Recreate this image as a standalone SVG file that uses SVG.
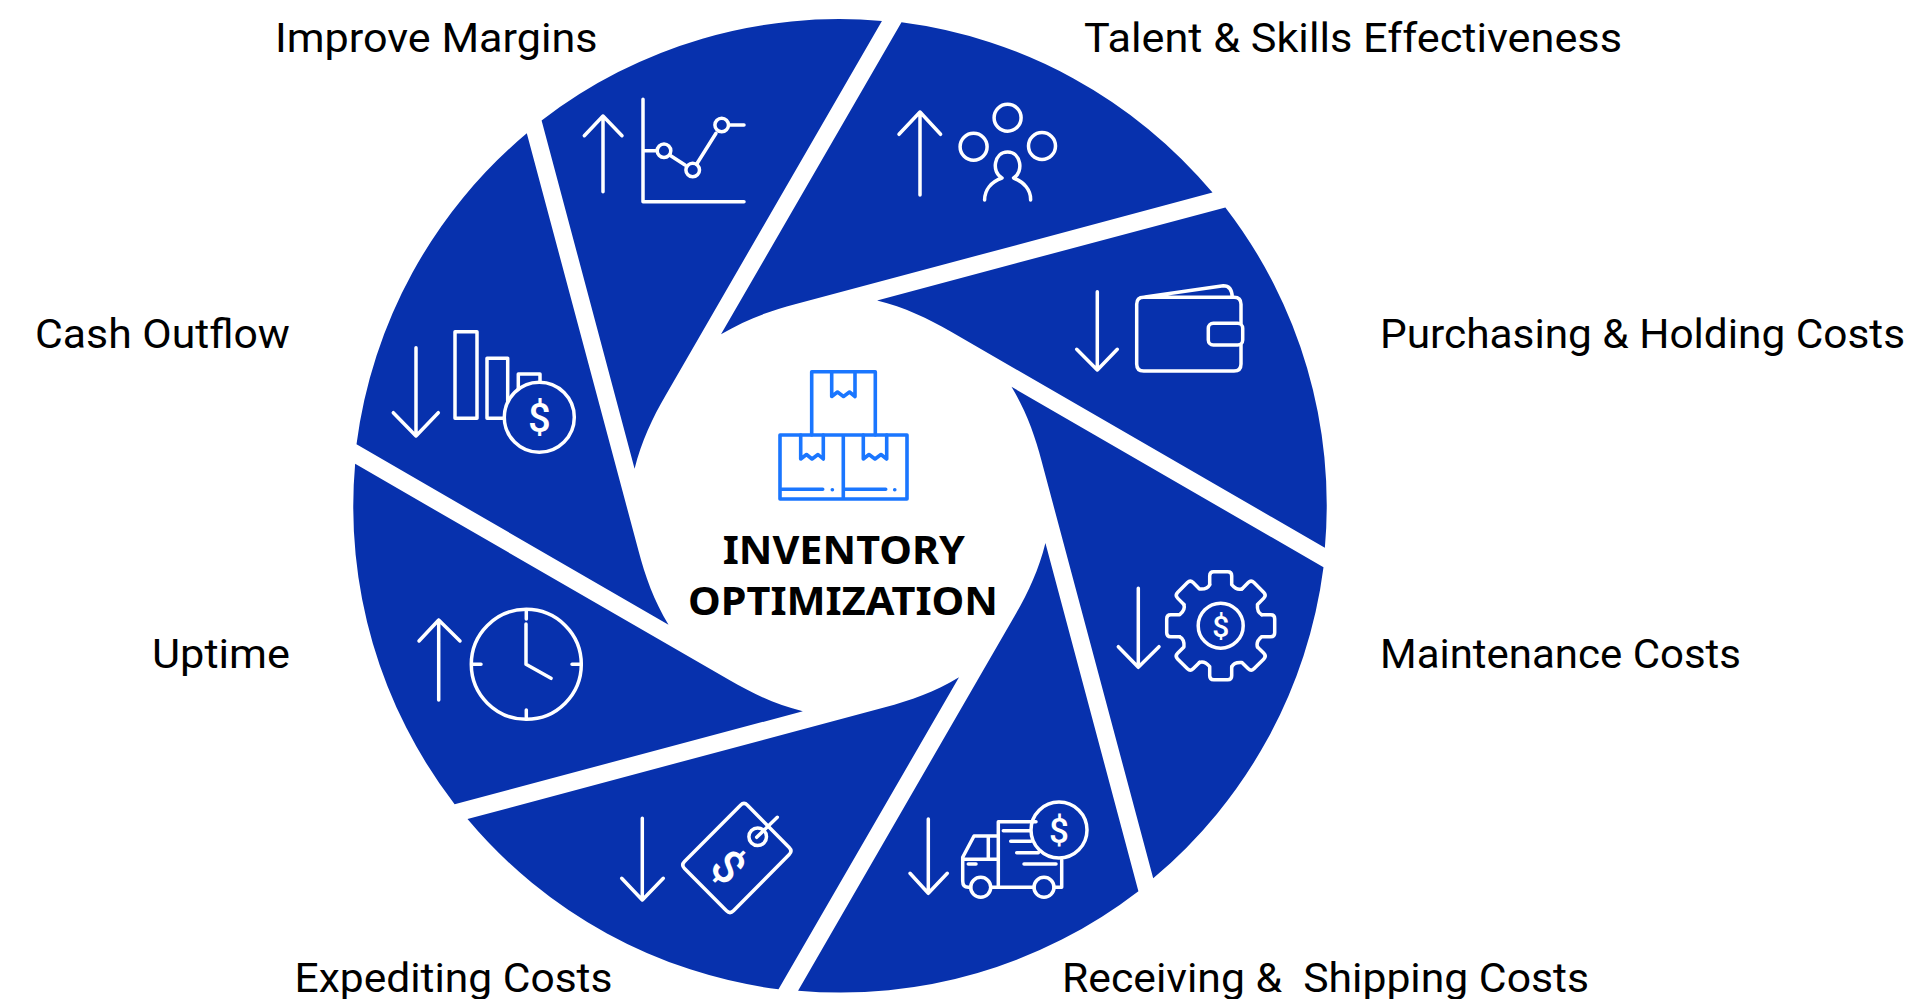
<svg xmlns="http://www.w3.org/2000/svg" xmlns:xlink="http://www.w3.org/1999/xlink" width="1916" height="999" viewBox="0 0 1916 999">
<style>
.bg{fill:#fff}
.petal{fill:#0731ad}
.ic{fill:none;stroke:#fff;stroke-width:3.5;stroke-linecap:round;stroke-linejoin:round}
.icf{fill:#0731ad;stroke:#fff;stroke-width:3.5;stroke-linecap:round;stroke-linejoin:round}
.box{fill:none;stroke:#1a76ff;stroke-width:3.6;stroke-linecap:round;stroke-linejoin:round}
.lbl{font-family:Roboto,"Liberation Sans",sans-serif;font-size:41px;fill:#000;white-space:pre}
.ttl{font-family:"Noto Sans","Liberation Sans",sans-serif;font-weight:700;font-size:40px;fill:#000}
.usd{font-family:Roboto,"Liberation Sans",sans-serif;font-weight:500;fill:#fff;text-anchor:middle}
</style>
<defs>
<path id="petal" class="petal" d="M61.500 -483.500A487.500 487.500 0 0 1 372.500 -313.200L-45 -201.500C-70 -195 -95 -186 -119 -171.500Z"/>
<path id="tooth" class="ic" d="M-11 -41L-11 -50Q-11 -54 -7 -54L7 -54Q11 -54 11 -50L11 -41Q16 -35 21.2 -36.8"/>
</defs>
<rect class="bg" width="1916" height="999"/>
<g id="connectors"></g>

<g id="talent">
<use href="#petal" transform="translate(840 505.800)"/>
<path class="ic" d="M920 195V112M899 134.300L920 112L940.600 134.300"/>
<circle class="ic" cx="1007.600" cy="117.700" r="13.500"/>
<circle class="ic" cx="973.600" cy="146.700" r="13.500"/>
<circle class="ic" cx="1042" cy="146" r="13.500"/>
<path class="ic" d="M1002 178C991 172 994 152 1007.600 152C1021 152 1024 172 1013.600 178C1024 182 1031 190 1030.600 200M1002 178C991 182 984.600 190 984.600 200"/>
<text class="lbl" x="1084" y="52" textLength="538" lengthAdjust="spacingAndGlyphs">Talent &amp; Skills Effectiveness</text>
</g>

<g id="purchasing">
<use href="#petal" transform="translate(840 505.800) rotate(45)"/>
<path class="ic" d="M1097.300 291.700V370M1076.700 349.300L1097.300 370L1117.300 349.300"/>
<path class="ic" d="M1145 297L1223.300 285.700Q1232 285.700 1232.300 297.300M1241 323.300V304.300Q1241 297.300 1234 297.300H1143.700Q1136.700 297.300 1136.700 304.300V364Q1136.700 371 1143.700 371H1234Q1241 371 1241 364V345"/>
<rect class="ic" x="1208.300" y="323.300" width="34.400" height="21.700" rx="5"/>
<text class="lbl" x="1380" y="348" textLength="525" lengthAdjust="spacingAndGlyphs">Purchasing &amp; Holding Costs</text>
</g>

<g id="maintenance">
<use href="#petal" transform="translate(840 505.800) rotate(90)"/>
<path class="ic" d="M1138.300 588.300V667.300M1118.300 646.700L1138.300 667.300L1159 646.700"/>
<g transform="translate(1220.700 625.700)">
<use href="#tooth"/><use href="#tooth" transform="rotate(45)"/><use href="#tooth" transform="rotate(90)"/><use href="#tooth" transform="rotate(135)"/><use href="#tooth" transform="rotate(180)"/><use href="#tooth" transform="rotate(225)"/><use href="#tooth" transform="rotate(270)"/><use href="#tooth" transform="rotate(315)"/>
<circle class="ic" r="22.500"/>
</g>
<text class="usd" x="1220.700" y="636.500" font-size="30">$</text>
<text class="lbl" x="1380" y="668" textLength="361" lengthAdjust="spacingAndGlyphs">Maintenance Costs</text>
</g>

<g id="receiving">
<use href="#petal" transform="translate(840 505.800) rotate(135)"/>
<path class="ic" d="M928.300 819V893.300M910 873.300L928.300 893.300L947.300 873.300"/>
<path class="ic" d="M998.300 887.300V821.700H1036M1061.700 860V887.300H1054M1034 887.300H990.700M970.700 887.300H968.300Q962.700 887.300 962.700 881V857.300L974 836H998.300M988.300 836.700V858.300M962.700 859.300H998.300M1003.300 830.700H1030M1010.700 841.300H1031M1016.700 852.700H1038.300M1024 864H1056M968.300 864H976"/>
<circle class="ic" cx="980.700" cy="887.300" r="10"/>
<circle class="ic" cx="1044" cy="887.300" r="10"/>
<circle class="ic" cx="1059" cy="830" r="28"/>
<text class="usd" x="1059" y="842.500" font-size="35">$</text>
<text class="lbl" x="1062" y="991.500" textLength="527" lengthAdjust="spacingAndGlyphs">Receiving &amp;  Shipping Costs</text>
</g>

<g id="expediting">
<use href="#petal" transform="translate(840 505.800) rotate(180)"/>
<path class="ic" d="M642.300 818.300V900M621.700 878.300L642.300 900L663.300 878.300"/>
<path class="ic" d="M740.500 805.200Q744 801.700 747.500 805.200L789.200 847.500Q792.700 851 789.200 854.500L733.500 910.800Q730 914.300 726.500 910.800L684.500 868.500Q681 865 684.500 861.500Z"/>
<circle class="ic" cx="757.700" cy="836.700" r="8.800"/>
<path class="ic" d="M756.700 837.300L777.300 817.300"/>
<text class="usd" x="0" y="16" font-size="46" transform="translate(728.300 866.700) rotate(45)">$</text>
<text class="lbl" x="294.500" y="991.500" textLength="318" lengthAdjust="spacingAndGlyphs">Expediting Costs</text>
</g>

<g id="uptime">
<use href="#petal" transform="translate(840 505.800) rotate(225)"/>
<path class="ic" d="M438.700 700V620M419 641L438.700 620L460 641"/>
<circle class="ic" cx="526.300" cy="664.300" r="55"/>
<path class="ic" d="M526.300 610V619M526.300 710V719M472 664.300H481M572 664.300H581M526 624V664.300L551 678.300"/>
<text class="lbl" x="152" y="668" textLength="138" lengthAdjust="spacingAndGlyphs">Uptime</text>
</g>

<g id="cash">
<use href="#petal" transform="translate(840 505.800) rotate(270)"/>
<path class="ic" d="M416 347.700V436M393.300 412.700L416 436L438.300 412.700"/>
<rect class="ic" x="455" y="331.700" width="22" height="86.600"/>
<rect class="ic" x="487" y="358.300" width="20.700" height="60"/>
<path class="ic" d="M518.300 390V374H540V390"/>
<circle class="icf" cx="539.300" cy="417.300" r="35"/>
<text class="usd" x="539.300" y="431.500" font-size="40">$</text>
<text class="lbl" x="35" y="348" textLength="255" lengthAdjust="spacingAndGlyphs">Cash Outflow</text>
</g>

<g id="margins">
<use href="#petal" transform="translate(840 505.800) rotate(315)"/>
<path class="ic" d="M603 191.700V116M584.300 135.700L603 116L622 135.700"/>
<path class="ic" d="M643 99.300V201.700H744M643 150.700H657M670.700 155.700L685 165M696.700 164L716 133.300M730 125H744"/>
<circle class="ic" cx="664" cy="150.700" r="6.800"/>
<circle class="ic" cx="692.700" cy="170" r="6.800"/>
<circle class="ic" cx="721.700" cy="125" r="6.800"/>
<text class="lbl" x="275" y="52" textLength="322.500" lengthAdjust="spacingAndGlyphs">Improve Margins</text>
</g>

<g id="center">
<path class="box" d="M811.700 435V371.700H875.300V435M831.700 371.700V396.500L837.500 392L843.500 396.500L849.500 392L855 396.500V371.700"/>
<path class="box" d="M780 435H907V499H780ZM843.300 435V499"/>
<path class="box" d="M800.700 435V459L806.500 454.500L812 459L818 454.500L823.300 459V435M863.300 435V459L869 454.500L875 459L881 454.500L886.700 459V435"/>
<path class="box" d="M781.700 489.300H822.700M845 489.300H885.700M832.300 489.700H832.400M894.700 489.700H894.800"/>
<text class="ttl" x="722.700" y="564" textLength="242.300" lengthAdjust="spacingAndGlyphs">INVENTORY</text>
<text class="ttl" x="688" y="615" textLength="310" lengthAdjust="spacingAndGlyphs">OPTIMIZATION</text>
</g>
</svg>
